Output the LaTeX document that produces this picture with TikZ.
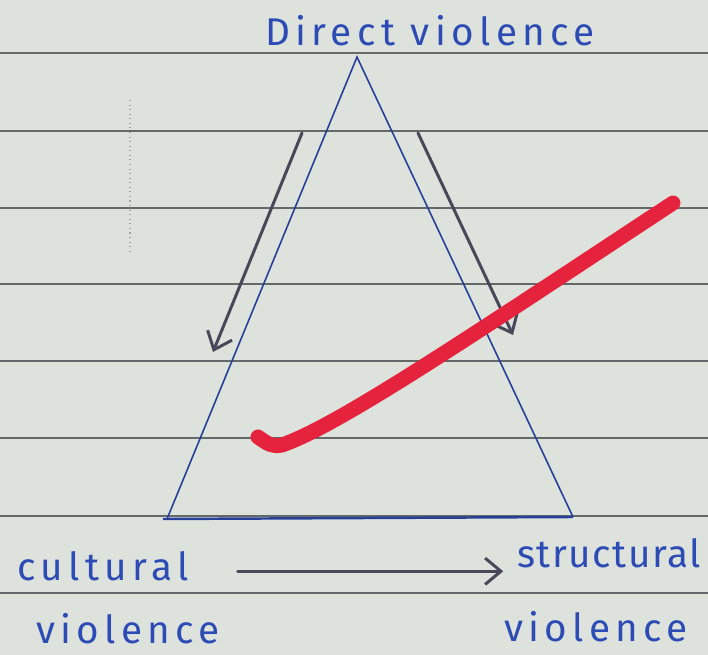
\documentclass[tikz,border=0pt]{standalone}
\usepackage{fontspec}
\newfontfamily\handfont[LetterSpace=14]{Fira Sans}
\newfontfamily\handtight[LetterSpace=4]{Fira Sans}
\usetikzlibrary{arrows.meta}
\definecolor{paper}{RGB}{221,226,221}
\definecolor{rule}{RGB}{100,104,104}
\definecolor{ink}{RGB}{45,75,180}
\definecolor{pencil}{RGB}{72,72,88}
\definecolor{tick}{RGB}{230,35,60}
\tikzset{
  % notebook page
  ruled/.style={draw=rule, line width=0.8pt},
  margin/.style={draw=rule!60, line width=0.6pt, dotted},
  % triangle and labels
  side/.style={draw=ink!85!black, line width=0.9pt},
  base/.style={draw=ink!85!black, line width=1.4pt},
  word/.style={text=ink, font=\handfont\fontsize{22}{24}\selectfont, inner sep=2pt},
  % arrows and tick
  flow/.style={draw=pencil, line width=1.7pt, line cap=round,
    -{Straight Barb[length=9pt, width=15pt]}},
  redtick/.style={draw=tick, line width=8.5pt, line cap=round, line join=round}
}
\begin{document}
\begin{tikzpicture}[x=0.02cm, y=-0.02cm]
  \fill[paper] (0,0) rectangle (708,655);
  \useasboundingbox (0,0) rectangle (708,655);
  \foreach \y in {53,131,208,284,361,438,516,593}
    \draw[ruled] (0,\y) -- (708,\y);
  \draw[margin] (130,100) -- (130,255);

  \coordinate (apex) at (357,57);
  \coordinate (bl) at (167,519);
  \coordinate (br) at (573,517);
  \draw[side] (bl) -- (apex) -- (br);
  \draw[base] (163,519) -- (br);

  \node[word] (direct) at (430,31) {Direct violence};
  \node[word] (cult) at (103,566) {cultural};
  \node[word] (cultv) at (128,629) {violence};
  \node[word, font=\handtight\fontsize{22}{24}\selectfont] (struc) at (609,553) {structural};
  \node[word] (strucv) at (596,627) {violence};

  \coordinate (la1) at (302,133);
  \coordinate (la2) at (213,352);
  \coordinate (ra1) at (418,133);
  \coordinate (ra2) at (513,335);
  \draw[flow] (la1) -- (la2);
  \draw[flow] (ra1) -- (ra2);
  \draw[flow, shorten <=0.9cm, shorten >=0.2cm] ([yshift=-3pt]cult.east) -- ([yshift=-3pt]cult.east -| struc.west);

  \draw[redtick] (258,437) .. controls (268,444) and (272,447) .. (282,445)
    .. controls (340,425) and (480,330) .. (673,203);
\end{tikzpicture}
\end{document}
